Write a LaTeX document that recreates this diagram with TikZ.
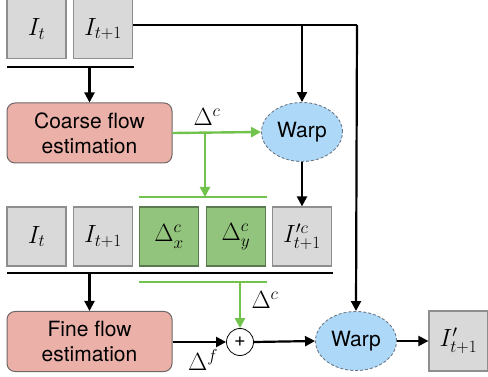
\documentclass[tikz,border=0pt]{standalone}
\usepackage{fontspec}
\setmainfont{TeX Gyre Heros}
\usetikzlibrary{shapes.geometric,arrows.meta}
\definecolor{boxgray}{HTML}{D9D9DA}
\definecolor{boxgrayd}{HTML}{8E8E8E}
\definecolor{pinkf}{HTML}{EBB1A9}
\definecolor{pinkd}{HTML}{6F6766}
\definecolor{greenf}{HTML}{93C47D}
\definecolor{greend}{HTML}{5C7A50}
\definecolor{bluef}{HTML}{AED8F8}
\definecolor{blued}{HTML}{6D7885}
\definecolor{gline}{HTML}{72C24E}
\begin{document}
\begin{tikzpicture}[x=1pt,y=-1pt,
  imgbox/.style={draw=boxgrayd,line width=1.2pt,fill=boxgray,minimum width=59pt,minimum height=59pt,inner sep=0pt,font=\fontsize{25}{29}\selectfont},
  flowbox/.style={draw=greend,line width=1.2pt,fill=greenf,minimum width=59pt,minimum height=59pt,inner sep=0pt,font=\fontsize{25}{29}\selectfont},
  estbox/.style={draw=pinkd,line width=1pt,fill=pinkf,rounded corners=8pt,minimum width=165pt,minimum height=60pt,align=center,inner sep=0pt,font=\fontsize{21}{25}\selectfont},
  warpnode/.style={ellipse,draw=blued,dashed,dash pattern=on 3pt off 2pt,line width=0.9pt,fill=bluef,minimum width=81pt,minimum height=59pt,inner sep=0pt,font=\fontsize{21}{25}\selectfont},
  lbl/.style={font=\fontsize{25}{29}\selectfont,inner sep=0pt},
  blk/.style={line width=2.2pt,draw=black},
  barline/.style={line width=2.8pt,draw=black},
  gbar/.style={line width=2.6pt,draw=gline},
  arr/.style={blk,-{Triangle[length=10pt,width=10pt]}},
  garr/.style={line width=2.4pt,draw=gline,-{Triangle[length=10pt,width=10pt]},color=gline},
]
\useasboundingbox (0,0) rectangle (488,377);
% top row
\node[imgbox] (It1) at (36.5,29) {$I_t$};
\node[imgbox] (Itp1) at (103,29) {$I_{t+1}$};
\coordinate (tb1) at (7,67);
\coordinate (tb2) at (134,67);
\draw[barline] (tb1) -- (tb2);
\node[estbox] (coarse) at (89.5,133) {Coarse flow\\estimation};
\node[warpnode] (w1) at (302,132) {Warp};
% middle row
\node[imgbox] (It2) at (36.5,236.5) {$I_t$};
\node[imgbox] (Itp2) at (103,236.5) {$I_{t+1}$};
\node[flowbox] (dx) at (169,236.5) {$\Delta^c_x$};
\node[flowbox] (dy) at (236,236.5) {$\Delta^c_y$};
\node[imgbox] (Ipc) at (302,236.5) {$I'^c_{t+1}$};
\coordinate (gt1) at (139,197);
\coordinate (gt2) at (267,197);
\draw[gbar] (gt1) -- (gt2);
\coordinate (mb1) at (7,273);
\coordinate (mb2) at (333,273);
\draw[barline] (mb1) -- (mb2);
\coordinate (gb1) at (139,282);
\coordinate (gb2) at (267,282);
\draw[gbar] (gb1) -- (gb2);
% bottom row
\node[estbox] (fine) at (89.5,341.5) {Fine flow\\estimation};
\node[circle,draw=black,line width=0.8pt,fill=white,minimum size=27pt,inner sep=0pt,font=\fontsize{20}{24}\selectfont] (plus) at (240,342) {+};
\node[warpnode] (w2) at (356,341) {Warp};
\node[imgbox,minimum height=60pt] (Ip) at (458.5,341) {$I'_{t+1}$};
% connectors
\coordinate (tr) at (357,25);
\draw[blk] ([yshift=4pt]Itp1.east) -- (tr);
\draw[arr] (tr) -- (w2.north);
\draw[arr] (w1.north |- tr) -- (w1.north);
\draw[arr] (coarse.north |- tb1) -- (coarse.north);
\draw[garr] (coarse.east) -- (w1.west);
\coordinate (gsplit) at (205,133);
\draw[garr] (gsplit) -- (gsplit |- gt1);
\node[lbl] at (207,117) {$\Delta^c$};
\draw[arr] (w1.south) -- (Ipc.north);
\draw[arr] (fine.north |- mb1) -- (fine.north);
\draw[garr] (plus.north |- gb1) -- (plus.north);
\node[lbl] at (265,300) {$\Delta^c$};
\draw[arr] (fine.east |- plus.west) -- (plus.west);
\node[lbl] at (203,360) {$\Delta^f$};
\draw[arr] (plus.east) -- (w2.west);
\draw[arr] (w2.east) -- (Ip.west);
\end{tikzpicture}
\end{document}
